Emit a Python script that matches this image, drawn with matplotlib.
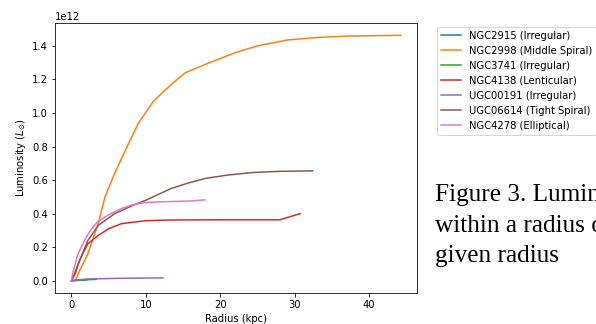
import matplotlib
matplotlib.use("Agg")
import matplotlib.pyplot as plt

# radius (kpc) / luminosity (L_sun)
r_2915 = [0, 0.5, 1.0, 2.0, 3.3]
L_2915 = [0, 0.002e12, 0.004e12, 0.006e12, 0.008e12]

r_2998 = [0.5, 1.1, 2.2, 3.6, 4.5, 5.8, 7.8, 9.0, 11.0, 13.4, 15.3, 18.0, 22.0, 25.0, 29.0, 33.0, 37.0, 44.2]
L_2998 = [0, 0.06e12, 0.16e12, 0.34e12, 0.50e12, 0.64e12, 0.83e12, 0.94e12, 1.07e12, 1.17e12,
          1.24e12, 1.29e12, 1.36e12, 1.40e12, 1.435e12, 1.45e12, 1.458e12, 1.463e12]

r_3741 = [0, 0.5, 1.0, 1.5, 2.0]
L_3741 = [0, 0.001e12, 0.002e12, 0.003e12, 0.004e12]

r_4138 = [0, 0.4, 0.9, 1.5, 2.2, 3.6, 5.0, 6.7, 9.8, 13.0, 20.0, 28.0, 30.7]
L_4138 = [0, 0.04e12, 0.10e12, 0.16e12, 0.22e12, 0.27e12, 0.31e12, 0.34e12, 0.357e12,
          0.362e12, 0.363e12, 0.363e12, 0.40e12]

r_191 = [0, 0.5, 1.0, 2.0, 4.0, 6.0, 8.0, 10.0, 12.3]
L_191 = [0, 0.003e12, 0.006e12, 0.010e12, 0.012e12, 0.014e12, 0.015e12, 0.016e12, 0.017e12]

r_6614 = [0, 0.5, 1.0, 2.2, 3.6, 5.8, 8.3, 10.0, 13.4, 15.5, 18.0, 21.0, 24.4, 28.0, 32.4]
L_6614 = [0, 0.04e12, 0.11e12, 0.24e12, 0.33e12, 0.40e12, 0.45e12, 0.48e12, 0.55e12, 0.58e12,
          0.61e12, 0.63e12, 0.645e12, 0.652e12, 0.655e12]

r_4278 = [0, 0.2, 0.45, 0.8, 1.3, 2.0, 2.7, 3.5, 4.5, 5.5, 6.7, 8.0, 9.8, 12.0, 13.4, 16.0, 17.9]
L_4278 = [0, 0.05e12, 0.09e12, 0.15e12, 0.20e12, 0.26e12, 0.31e12, 0.35e12, 0.38e12, 0.405e12,
          0.43e12, 0.45e12, 0.466e12, 0.47e12, 0.472e12, 0.475e12, 0.482e12]

labels = ["NGC2915 (Irregular)", "NGC2998 (Middle Spiral)", "NGC3741 (Irregular)",
          "NGC4138 (Lenticular)", "UGC00191 (Irregular)", "UGC06614 (Tight Spiral)",
          "NGC4278 (Elliptical)"]
radii = [r_2915, r_2998, r_3741, r_4138, r_191, r_6614, r_4278]
lums = [L_2915, L_2998, L_3741, L_4138, L_191, L_6614, L_4278]

fig = plt.figure(figsize=(596 / 72, 324 / 72), dpi=72)
ax = fig.add_axes([0.0923, 0.0957, 0.6074, 0.8333])

for r, L, lab in zip(radii, lums, labels):
    ax.plot(r, L, label=lab)

ax.set_xlabel("Radius (kpc)")
ax.set_ylabel(r"Luminosity ($L_{\odot}$)")
ax.set_xticks([0, 10, 20, 30, 40])

fig.legend(loc="upper left", bbox_to_anchor=(0.7327, 0.9167), borderaxespad=0)

# caption text from the surrounding document (runs off the right edge)
cap = ["Figure 3. Luminosity", "within a radius of the", "given radius"]
baselines = [201, 232, 262]
for line, yb in zip(cap, baselines):
    fig.text(435 / 596, 1 - yb / 324, line, family="Liberation Serif",
             fontsize=25.2, va="baseline", ha="left")

fig.savefig("out.png", dpi=72)
